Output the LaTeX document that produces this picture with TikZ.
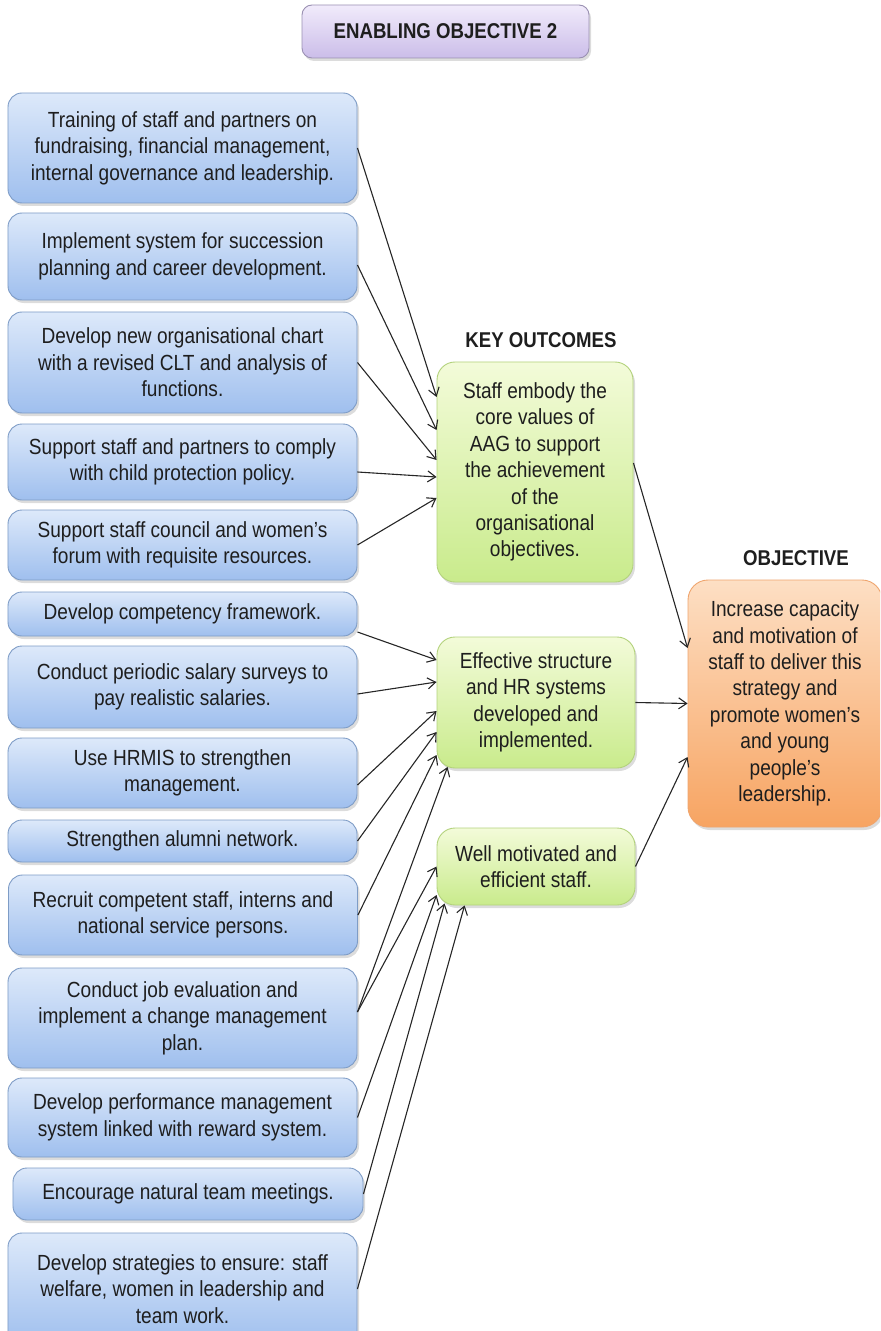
\documentclass[tikz,border=0pt]{standalone}
\usepackage{fontspec}
\setmainfont{Liberation Sans}[FakeStretch=0.87]
\usetikzlibrary{arrows.meta,shadows,calc}
\definecolor{bluetop}{HTML}{DDE9FA}
\definecolor{bluebot}{HTML}{9FBFEE}
\definecolor{blueedge}{HTML}{7E9CC6}
\definecolor{greentop}{HTML}{F3FBD9}
\definecolor{greenbot}{HTML}{C9EB8C}
\definecolor{greenedge}{HTML}{B3D27C}
\definecolor{orangetop}{HTML}{FDDFC4}
\definecolor{orangebot}{HTML}{F7A462}
\definecolor{orangeedge}{HTML}{EFA56E}
\definecolor{purptop}{HTML}{F1EBFB}
\definecolor{purpbot}{HTML}{CBBDE9}
\definecolor{purpedge}{HTML}{9A90B2}
\definecolor{txt}{HTML}{1E1E1E}
\begin{document}
\begin{tikzpicture}[x=1bp,y=-1bp,
  base/.style={rounded corners=14bp, align=center, inner sep=0pt, text=txt,
    font=\fontsize{22}{26.5}\selectfont, line width=0.9bp,
    drop shadow={opacity=0.28,shadow xshift=2bp,shadow yshift=-3bp}},
  bluebox/.style={base, draw=blueedge, top color=bluetop, bottom color=bluebot, minimum width=349bp},
  greenbox/.style={base, rounded corners=18bp, draw=greenedge, top color=greentop, bottom color=greenbot},
  orangebox/.style={base, rounded corners=20bp, draw=orangeedge, top color=orangetop, bottom color=orangebot},
  titlebox/.style={base, rounded corners=10bp, draw=purpedge, top color=purptop, bottom color=purpbot,
    font=\fontsize{21.5}{26}\selectfont\bfseries},
  lbl/.style={inner sep=0pt, text=txt, font=\fontsize{21.5}{26}\selectfont\bfseries},
  conn/.style={line width=1.1bp, draw=black!85, -{Straight Barb[length=8bp,width=11bp]}},
]
\useasboundingbox (0,0) rectangle (880,1331);
\begin{scope}
\clip (0,0) rectangle (880,1331);

% title
\node[titlebox, minimum width=287bp, minimum height=53bp] (title) at (445.5,31.5) {ENABLING OBJECTIVE 2};

% left activity boxes
\node[bluebox, minimum height=110bp] (b1) at (182.5,148) {Training of staff and partners on\\fundraising, financial management,\\internal governance and leadership.};
\node[bluebox, minimum height=87bp] (b2) at (182.5,256.5) {Implement system for succession\\planning and career development.};
\node[bluebox, minimum height=101bp] (b3) at (182.5,362.5) {Develop new organisational chart\\with a revised CLT and analysis of\\functions.};
\node[bluebox, minimum height=76bp] (b4) at (182.5,462) {Support staff and partners to comply\\with child protection policy.};
\node[bluebox, minimum height=70bp] (b5) at (182.5,545) {Support staff council and women's\\forum with requisite resources.};
\node[bluebox, minimum height=44bp] (b6) at (182.5,614) {Develop competency framework.};
\node[bluebox, minimum height=82bp] (b7) at (182.5,687) {Conduct periodic salary surveys to\\pay realistic salaries.};
\node[bluebox, minimum height=70bp] (b8) at (182.5,773) {Use HRMIS to strengthen\\management.};
\node[bluebox, minimum height=42bp] (b9) at (182.5,841) {Strengthen alumni network.};
\node[bluebox, minimum height=80bp] (b10) at (183,915) {Recruit competent staff, interns and\\national service persons.};
\node[bluebox, minimum height=100bp] (b11) at (182.5,1018) {Conduct job evaluation and\\implement a change management\\plan.};
\node[bluebox, minimum height=79bp] (b12) at (182.5,1117.5) {Develop performance management\\system linked with reward system.};
\node[bluebox, minimum width=350bp, minimum height=52bp] (b13) at (188,1194) {Encourage natural team meetings.};
\node[bluebox, minimum height=112bp] (b14) at (182.5,1289) {Develop strategies to ensure: staff\\welfare, women in leadership and\\team work.};

% key outcomes
\node[lbl] (kolbl) at (541,340) {KEY OUTCOMES};
\node[greenbox, minimum width=196bp, minimum height=220bp] (ko1) at (535,472) {Staff embody the\\core values of\\AAG to support\\the achievement\\of the\\organisational\\objectives.};
\node[greenbox, minimum width=198bp, minimum height=131bp] (ko2) at (536,702.5) {Effective structure\\and HR systems\\developed and\\implemented.};
\node[greenbox, minimum width=198bp, minimum height=77bp] (ko3) at (536,866.5) {Well motivated and\\efficient staff.};

% objective
\node[lbl] (objlbl) at (796,558) {OBJECTIVE};
\node[orangebox, minimum width=194bp, minimum height=247bp] (obj) at (785,703.5) {Increase capacity\\and motivation of\\staff to deliver this\\strategy and\\promote women's\\and young\\people's\\leadership.};

% connectors to KO1
\draw[conn] (b1.east) -- ([yshift=75bp]ko1.west);
\draw[conn] ([yshift=-8.5bp]b2.east) -- ([yshift=42bp]ko1.west);
\draw[conn] (b3.east) -- ([yshift=12bp]ko1.west);
\draw[conn] ([yshift=-10bp]b4.east) -- ([yshift=-5bp]ko1.west);
\draw[conn] (b5.east) -- ([yshift=-26bp]ko1.west);
% connectors to KO2
\draw[conn] ([yshift=-18bp]b6.east) -- ([yshift=42.5bp]ko2.west);
\draw[conn] ([yshift=-7bp]b7.east) -- ([yshift=20.5bp]ko2.west);
\draw[conn] ([yshift=-12bp]b8.east) -- ([yshift=-8.5bp]ko2.west);
\draw[conn] (b9.east) -- ([yshift=-29.5bp]ko2.west);
\draw[conn] (b10.east) -- ([yshift=-52.5bp]ko2.west);
\draw[conn] ([yshift=6bp]b11.east) -- ([xshift=11bp,yshift=1.5bp]ko2.south west);
% connectors to KO3
\draw[conn] ([yshift=6bp]b11.east) -- (ko3.west);
\draw[conn] (b12.east) -- ([yshift=-28.5bp]ko3.west);
\draw[conn] (b13.east) -- ([xshift=8bp,yshift=2bp]ko3.south west);
\draw[conn] (b14.east) -- ([xshift=28bp]ko3.south west);
% outcomes to objective
\draw[conn] ([yshift=9bp]ko1.east) -- ([yshift=55.5bp]obj.west);
\draw[conn] (ko2.east) -- (obj.west);
\draw[conn] (ko3.east) -- ([yshift=-53.5bp]obj.west);
\end{scope}
\end{tikzpicture}
\end{document}
